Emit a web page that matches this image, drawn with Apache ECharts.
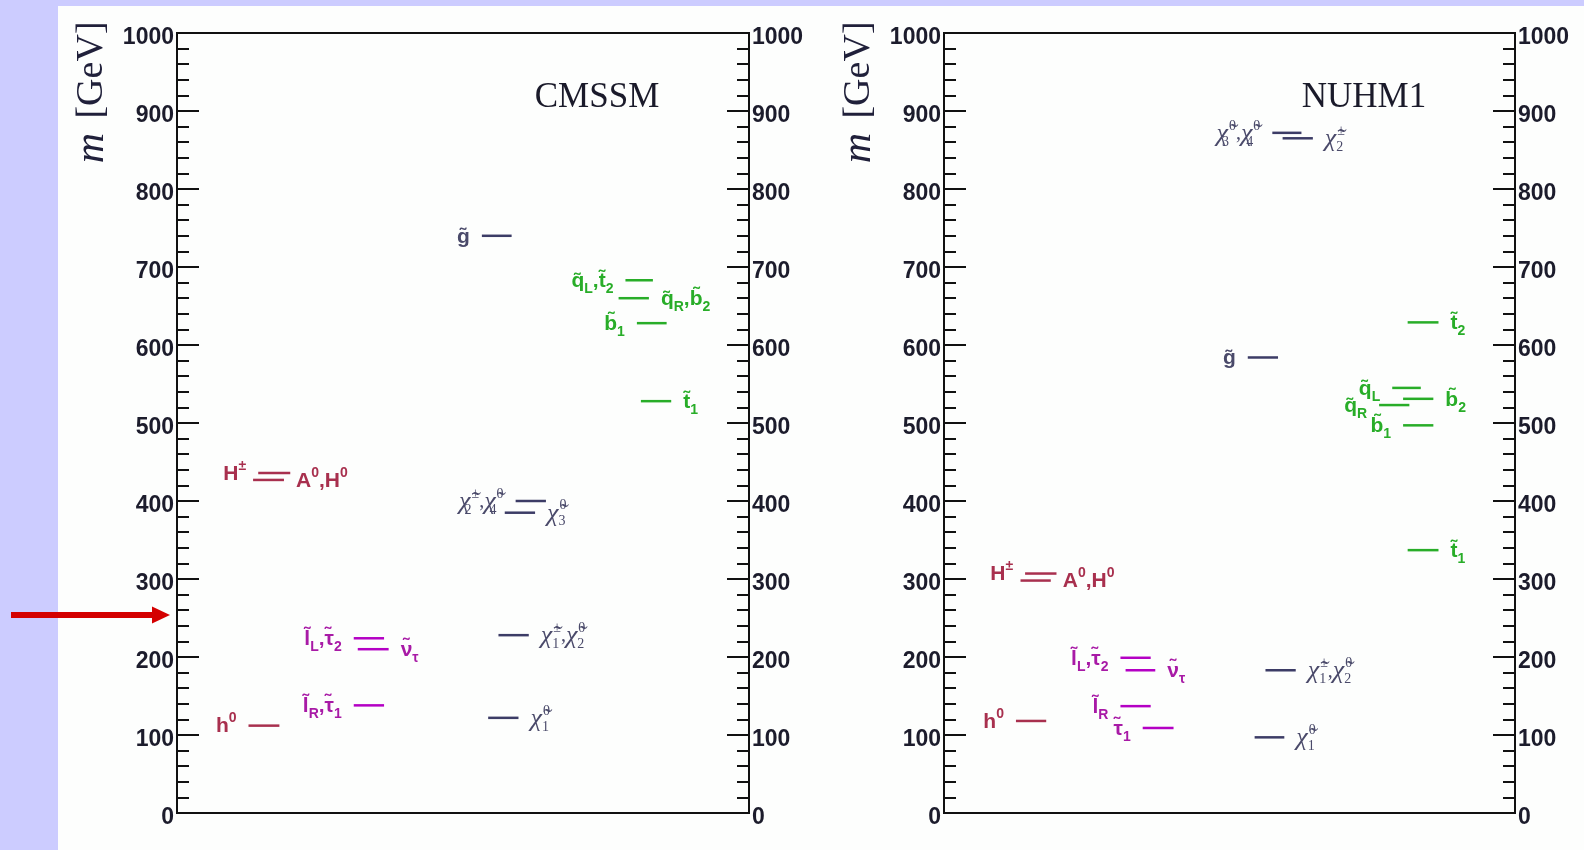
<!DOCTYPE html>
<html><head><meta charset="utf-8">
<script src="https://cdn.jsdelivr.net/npm/echarts@6/dist/echarts.min.js"></script>
<style>html,body{margin:0;padding:0;background:#fff;}#c{width:1584px;height:850px;}</style>
</head><body><div id="c"></div>
<script>
// ---------------- DATA ----------------
const massMin = 0, massMax = 1000, massStep = 100;
const panelTitles = ['CMSSM', 'NUHM1'];
const axisTitle = ['m', '[GeV]'];
const arrowMass = 254; // annotation arrow on the left

// CMSSM spectrum
const cmssmLabels = ['h{sp|0}', 'H{sp|±}', 'A{sp|0},H{sp|0}',
  'l\u0303{sb|L},τ\u0303{sb|2}', 'ν\u0303{sb|τ}', 'l\u0303{sb|R},τ\u0303{sb|1}',
  'g\u0303', '{chi|χ\u0303}{sbs|2}{cs|±}{cm|,}{chi|χ\u0303}{sbs|4}{cs|0}', '{chi|χ\u0303}{sbs|3}{cs|0}',
  '{chi|χ\u0303}{sbs|1}{cs|±}{cm|,}{chi|χ\u0303}{sbs|2}{cs|0}', '{chi|χ\u0303}{sbs|1}{cs|0}',
  'q\u0303{sb|L},t\u0303{sb|2}', 'q\u0303{sb|R},b\u0303{sb|2}', 'b\u0303{sb|1}', 't\u0303{sb|1}'];
const cmssmMass = [112, 436, 427, 224, 210, 138, 740, 400, 385, 228, 122, 683, 660, 628, 528];
const cmssmFrom = [12.5, 14.2, 13.3, 30.9, 31.6, 30.9, 53.3, 59.2, 57.3, 56.2, 54.4, 78.4, 77.2, 80.4, 81.1];
const cmssmTo   = [17.9, 19.8, 18.7, 36.2, 37.0, 36.2, 58.5, 64.5, 62.6, 61.5, 59.7, 83.2, 82.5, 85.6, 86.4];
const cmssmSide = ['L','L','R','L','R','L','L','L','R','R','R','L','R','L','R'];
const cmssmKind = ['higgs','higgs','higgs','slepton','slepton','slepton','gaugino','gaugino','gaugino','gaugino','gaugino','squark','squark','squark','squark'];

// NUHM1 spectrum
const nuhmLabels = ['h{sp|0}', 'H{sp|±}', 'A{sp|0},H{sp|0}',
  'l\u0303{sb|L},τ\u0303{sb|2}', 'ν\u0303{sb|τ}', 'l\u0303{sb|R}', 'τ\u0303{sb|1}',
  'g\u0303', '{chi|χ\u0303}{sbs|3}{cs|0}{cm|,}{chi|χ\u0303}{sbs|4}{cs|0}', '{chi|χ\u0303}{sbs|2}{cs|±}',
  '{chi|χ\u0303}{sbs|1}{cs|±}{cm|,}{chi|χ\u0303}{sbs|2}{cs|0}', '{chi|χ\u0303}{sbs|1}{cs|0}',
  't\u0303{sb|2}', 'q\u0303{sb|L}', 'b\u0303{sb|2}', 'q\u0303{sb|R}', 'b\u0303{sb|1}', 't\u0303{sb|1}'];
const nuhmMass = [118, 307, 298, 199, 183, 137, 109, 584, 872, 865, 183, 97, 629, 545, 531, 523, 497, 337];
const nuhmFrom = [12.6, 14.2, 13.4, 30.9, 31.8, 30.9, 34.8, 53.2, 57.5, 59.3, 56.3, 54.4, 81.2, 78.5, 80.4, 76.2, 80.4, 81.2];
const nuhmTo   = [17.9, 19.7, 18.7, 36.2, 37.0, 36.2, 40.2, 58.5, 62.6, 64.6, 61.6, 59.6, 86.6, 83.5, 85.7, 81.5, 85.7, 86.6];
const nuhmSide = ['L','L','R','L','R','L','L','L','L','R','R','R','R','L','R','L','L','R'];
const nuhmKind = ['higgs','higgs','higgs','slepton','slepton','slepton','slepton','gaugino','gaugino','gaugino','gaugino','gaugino','squark','squark','squark','squark','squark','squark'];

// ---------------- STYLE ----------------
function hasFont(name){
  const c = document.createElement('canvas').getContext('2d');
  const s = '1000 mwiMWHqb';
  let r = false;
  ['monospace','serif'].forEach(f => {
    c.font = 'bold 40px ' + f; const a = c.measureText(s).width;
    c.font = 'bold 40px "' + name + '", ' + f; const b = c.measureText(s).width;
    if (a !== b) r = true;
  });
  return r;
}
const NARROW = hasFont('Liberation Sans Narrow');
const SANS = NARROW ? '"Liberation Sans Narrow", "Liberation Sans", sans-serif' : '"Liberation Sans", sans-serif';
const TICK_FS = NARROW ? 26 : 23;
const LAB_FS = NARROW ? 23 : 21;
const SERIF = '"Liberation Serif", "DejaVu Serif", serif';

const COLORS = {
  higgs:   {line: '#A8304E', text: '#A8304E'},
  slepton: {line: '#B400C4', text: '#A81AA6'},
  gaugino: {line: '#3C3C66', text: '#4A4A6A'},
  squark:  {line: '#28AD28', text: '#28AD28'}
};
const GRID = [{left: 177, top: 33, width: 572, height: 780}, {left: 944, top: 33, width: 571, height: 780}];
const GAP = 12, LABEL_DY = 1;

const RICH = {
  sp:  {fontSize: 14, lineHeight: 13, verticalAlign: 'top', fontFamily: SANS, fontWeight: 'bold'},
  sb:  {fontSize: 14, lineHeight: 13, verticalAlign: 'bottom', fontFamily: SANS, fontWeight: 'bold'},
  sbs: {fontSize: 14, lineHeight: 13, verticalAlign: 'bottom', fontFamily: SERIF, fontWeight: 'normal', width: 1},
  cs:  {fontSize: 14, lineHeight: 13, verticalAlign: 'top', fontFamily: SERIF, fontWeight: 'normal'},
  cm:  {fontSize: 20, lineHeight: 30, fontFamily: SERIF, fontWeight: 'normal'},
  chi: {fontSize: 26, lineHeight: 30, fontFamily: SERIF, fontStyle: 'italic', fontWeight: 'normal'}
};

function makeSeries(idx, labels, mass, from, to, side, kind){
  return {
    type: 'custom', xAxisIndex: idx, yAxisIndex: idx * 2, clip: false, silent: true,
    data: mass.map((m, i) => [from[i], to[i], m, i]),
    renderItem(params, api){
      const i = api.value(3);
      const a = api.coord([api.value(0), api.value(2)]);
      const b = api.coord([api.value(1), api.value(2)]);
      const col = COLORS[kind[i]];
      const L = side[i] === 'L';
      return {type: 'group', children: [
        {type: 'line', shape: {x1: a[0], y1: a[1], x2: b[0], y2: b[1]}, style: {stroke: col.line, lineWidth: 2.5}},
        {type: 'text', x: L ? a[0] - GAP : b[0] + GAP, y: a[1] + LABEL_DY,
          style: {text: labels[i], align: L ? 'right' : 'left', verticalAlign: 'middle', fill: col.text,
            fontSize: LAB_FS, fontFamily: SANS, fontWeight: 'bold', lineHeight: 30, rich: RICH}}
      ]};
    }
  };
}

function yAxis(g, pos){
  return {
    type: 'value', gridIndex: g, position: pos, min: massMin, max: massMax, interval: massStep,
    axisLine: {show: true, onZero: false, lineStyle: {color: '#111', width: 2}},
    axisTick: {show: true, inside: true, length: 22, lineStyle: {color: '#111', width: 2}},
    minorTick: {show: true, splitNumber: 5, length: 12, lineStyle: {color: '#111', width: 2}},
    splitLine: {show: false}, minorSplitLine: {show: false},
    axisLabel: {show: true, margin: 3, color: '#1c1c2c', fontFamily: SANS, fontWeight: 'bold', fontSize: TICK_FS,
      verticalAlign: 'top', lineHeight: 10, formatter: v => String(v)}
  };
}

const chart = echarts.init(document.getElementById('c'), null, {renderer: 'canvas', width: 1584, height: 850});
const graphics = [
  {type: 'rect', shape: {x: 0, y: 0, width: 58, height: 850}, style: {fill: '#CCCCFF'}, silent: true},
  {type: 'rect', shape: {x: 0, y: 0, width: 1584, height: 6}, style: {fill: '#CCCCFF'}, silent: true}
];
GRID.forEach((g, k) => {
  graphics.push({type: 'text', x: g.left + 420, y: 98, silent: true,
    style: {text: panelTitles[k], align: 'center', verticalAlign: 'middle', fill: '#1a1a2a', fontFamily: SERIF, fontSize: 35}});
  graphics.push({type: 'text', x: g.left - 85, y: 148, rotation: Math.PI / 2, silent: true,
    style: {text: axisTitle[0], align: 'center', verticalAlign: 'middle', fill: '#20203a',
      fontFamily: SERIF, fontStyle: 'italic', fontSize: 42}});
  graphics.push({type: 'text', x: g.left - 85, y: 70, rotation: Math.PI / 2, silent: true,
    style: {text: axisTitle[1], align: 'center', verticalAlign: 'middle', fill: '#20203a',
      fontFamily: SERIF, fontSize: 38}});
});
const ay = GRID[0].top + (1 - (arrowMass - massMin) / (massMax - massMin)) * GRID[0].height;
graphics.push({type: 'rect', shape: {x: 11, y: ay - 3, width: 143, height: 6}, style: {fill: '#D40000'}, silent: true});
graphics.push({type: 'polygon', shape: {points: [[152, ay - 8.5], [170, ay], [152, ay + 8.5]]}, style: {fill: '#D40000'}, silent: true});

chart.setOption({
  backgroundColor: '#FDFEFD',
  animation: false,
  grid: GRID.map(g => Object.assign({show: true, backgroundColor: 'transparent', borderColor: '#111', borderWidth: 2, containLabel: false}, g)),
  xAxis: GRID.map((g, k) => ({type: 'value', gridIndex: k, min: 0, max: 100, show: false})),
  yAxis: [yAxis(0, 'left'), yAxis(0, 'right'), yAxis(1, 'left'), yAxis(1, 'right')],
  graphic: {elements: graphics},
  series: [
    makeSeries(0, cmssmLabels, cmssmMass, cmssmFrom, cmssmTo, cmssmSide, cmssmKind),
    makeSeries(1, nuhmLabels, nuhmMass, nuhmFrom, nuhmTo, nuhmSide, nuhmKind)
  ]
});
</script></body></html>
